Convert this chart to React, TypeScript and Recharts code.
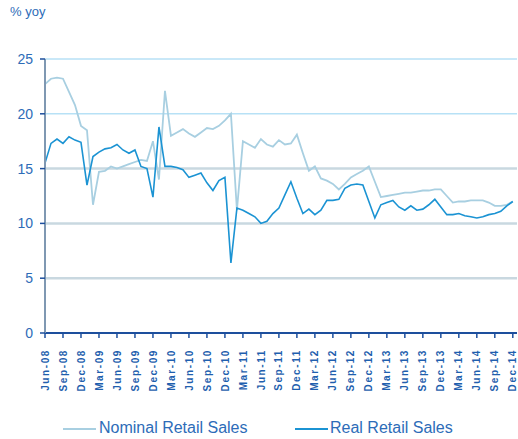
import React from 'react';
import { LineChart, Line, XAxis, YAxis, CartesianGrid } from 'recharts';

// monthly, Jun-08 .. Dec-14 (79 months)
const tickLabels = [
    'Jun-08', 'Sep-08', 'Dec-08', 'Mar-09', 'Jun-09', 'Sep-09', 'Dec-09',
    'Mar-10', 'Jun-10', 'Sep-10', 'Dec-10', 'Mar-11', 'Jun-11', 'Sep-11',
    'Dec-11', 'Mar-12', 'Jun-12', 'Sep-12', 'Dec-12', 'Mar-13', 'Jun-13',
    'Sep-13', 'Dec-13', 'Mar-14', 'Jun-14', 'Sep-14', 'Dec-14',
];

const nominal = [
    22.7, 23.2, 23.3, 23.2, 22.0, 20.8, 18.9, 18.5, 11.7, 14.7,
    14.8, 15.2, 15.0, 15.2, 15.4, 15.6, 15.8, 15.7, 17.5, 14.0,
    22.1, 18.0, 18.3, 18.6, 18.2, 17.9, 18.3, 18.7, 18.6, 18.9,
    19.4, 20.0, 11.2, 17.5, 17.2, 16.9, 17.7, 17.2, 17.0, 17.6,
    17.2, 17.3, 18.1, 16.4, 14.8, 15.2, 14.1, 13.9, 13.6, 13.1,
    13.6, 14.2, 14.5, 14.8, 15.2, 13.8, 12.4, 12.5, 12.6, 12.7,
    12.8, 12.8, 12.9, 13.0, 13.0, 13.1, 13.1, 12.5, 11.9, 12.0,
    12.0, 12.1, 12.1, 12.1, 11.9, 11.6, 11.6, 11.7, 12.0,
];

const real = [
    15.5, 17.3, 17.7, 17.3, 17.9, 17.6, 17.4, 13.5, 16.1, 16.5,
    16.8, 16.9, 17.2, 16.7, 16.4, 16.7, 15.2, 15.0, 12.4, 18.8,
    15.2, 15.2, 15.1, 14.9, 14.2, 14.4, 14.6, 13.7, 13.0, 13.9,
    14.2, 6.4, 11.4, 11.2, 10.9, 10.6, 10.0, 10.2, 10.9, 11.4,
    12.6, 13.8, 12.3, 10.9, 11.3, 10.8, 11.2, 12.1, 12.1, 12.2,
    13.2, 13.5, 13.6, 13.5, 12.0, 10.5, 11.7, 11.9, 12.1, 11.5,
    11.2, 11.6, 11.2, 11.3, 11.7, 12.2, 11.5, 10.8, 10.8, 10.9,
    10.7, 10.6, 10.5, 10.6, 10.8, 10.9, 11.1, 11.6, 12.0,
];

const yTicks = [0, 5, 10, 15, 20, 25];

const data = nominal.map((v, i) => ({ i, nominal: v, real: real[i] }));
const xTicks = tickLabels.map((_, k) => k * 3);

const NOMINAL_COLOR = '#a8cfe1';
const REAL_COLOR = '#1b93d3';
const TEXT_COLOR = '#2d6cb8';

const MonthTick = (props: any) => {
    const { x, y, payload } = props;
    return (
        <text
            x={x}
            y={y + 9}
            transform={`rotate(-90, ${x}, ${y + 9})`}
            textAnchor="end"
            dy="0.36em"
            fill="#1f5fae"
            fontSize={10}
            fontWeight="bold"
            letterSpacing={1.6}
            fontFamily="'Liberation Sans', Arial, sans-serif"
        >
            {tickLabels[payload.value / 3]}
        </text>
    );
};

const gridLine = (props: any) => {
    const { x1, x2, y1, y2, key } = props;
    if (y1 > 320) return <g key={key} />;
    const upper = y1 < 130;
    return (
        <line
            key={key}
            x1={x1}
            x2={x2}
            y1={y1}
            y2={y2}
            stroke={upper ? '#b7e1f6' : '#c9d8e0'}
            strokeWidth={upper ? 1.5 : 2.5}
        />
    );
};

export default function App() {
    return (
        <div style={{ position: 'absolute', left: 0, top: 0, width: 518, height: 439, background: '#fff' }}>
            <div style={{
                position: 'absolute', left: 10, top: 4, fontSize: 13, color: TEXT_COLOR,
                fontFamily: "'Liberation Sans', Arial, sans-serif",
            }}>
                % yoy
            </div>
            <LineChart
                width={518}
                height={439}
                data={data}
                margin={{ top: 59, right: 1, bottom: 0, left: 0 }}
            >
                <CartesianGrid vertical={false} horizontal={gridLine} />
                <XAxis
                    dataKey="i"
                    type="number"
                    domain={[0, 78.7]}
                    ticks={xTicks}
                    interval={0}
                    height={106}
                    tick={<MonthTick />}
                    tickSize={5}
                    axisLine={{ stroke: '#1d4f9d', strokeWidth: 2 }}
                    tickLine={{ stroke: '#1d4f9d', strokeWidth: 1.5 }}
                />
                <YAxis
                    domain={[0, 25]}
                    ticks={yTicks}
                    width={45}
                    tickSize={5}
                    tickMargin={7}
                    axisLine={{ stroke: '#7f98b2', strokeWidth: 2 }}
                    tickLine={{ stroke: '#1d4f9d', strokeWidth: 1.5 }}
                    tick={{ fill: TEXT_COLOR, fontSize: 14, fontFamily: "'Liberation Sans', Arial, sans-serif" }}
                />
                <Line
                    dataKey="nominal"
                    type="linear"
                    stroke={NOMINAL_COLOR}
                    strokeWidth={1.8}
                    dot={false}
                    isAnimationActive={false}
                />
                <Line
                    dataKey="real"
                    type="linear"
                    stroke={REAL_COLOR}
                    strokeWidth={1.6}
                    dot={false}
                    isAnimationActive={false}
                />
            </LineChart>
            <div style={{
                position: 'absolute', left: 0, top: 418, width: 518, height: 20,
                fontFamily: "'Liberation Sans', Arial, sans-serif", fontSize: 16, color: TEXT_COLOR,
            }}>
                <span style={{ position: 'absolute', left: 63, top: 10, width: 33, height: 2, background: NOMINAL_COLOR }} />
                <span style={{ position: 'absolute', left: 99, top: 1, whiteSpace: 'nowrap' }}>Nominal Retail Sales</span>
                <span style={{ position: 'absolute', left: 295, top: 10, width: 33, height: 2, background: REAL_COLOR }} />
                <span style={{ position: 'absolute', left: 330, top: 1, whiteSpace: 'nowrap' }}>Real Retail Sales</span>
            </div>
        </div>
    );
}
